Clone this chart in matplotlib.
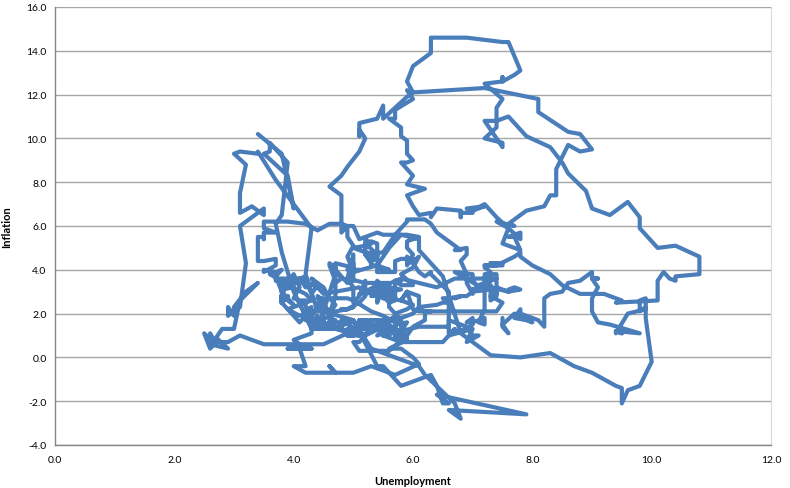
import matplotlib
matplotlib.use("Agg")
import matplotlib.pyplot as plt

# Monthly unemployment rate (%) , one row per year starting 1948
unemployment = [
    3.4,3.8,4.0,3.9,3.5,3.6,3.6,3.9,3.8,3.7,3.8,4.0,
    4.3,4.7,5.0,5.3,6.1,6.2,6.7,6.8,6.6,7.9,6.4,6.6,
    6.5,6.4,6.3,5.8,5.5,5.4,5.0,4.5,4.4,4.2,4.2,4.3,
    3.7,3.4,3.4,3.1,3.0,3.2,3.1,3.1,3.3,3.5,3.5,3.1,
    3.2,3.1,2.9,2.9,3.0,3.0,3.2,3.4,3.1,3.0,2.8,2.7,
    2.9,2.6,2.6,2.7,2.5,2.5,2.6,2.7,2.9,3.1,3.5,4.5,
    4.9,5.2,5.7,5.9,5.9,5.6,5.8,6.0,6.1,5.7,5.3,5.0,
    4.9,4.7,4.6,4.7,4.3,4.2,4.0,4.2,4.1,4.3,4.2,4.2,
    4.0,3.9,4.2,4.0,4.3,4.3,4.4,4.1,3.9,3.9,4.3,4.2,
    4.2,3.9,3.7,3.9,4.1,4.3,4.2,4.1,4.4,4.5,5.1,5.2,
    5.8,6.4,6.7,7.4,7.4,7.3,7.5,7.4,7.1,6.7,6.2,6.2,
    6.0,5.9,5.6,5.2,5.1,5.0,5.1,5.2,5.5,5.7,5.8,5.3,
    5.2,4.8,5.4,5.2,5.1,5.4,5.5,5.6,5.5,6.1,6.1,6.6,
    6.6,6.9,6.9,7.0,7.1,6.9,7.0,6.6,6.7,6.5,6.1,6.0,
    5.8,5.5,5.6,5.6,5.5,5.5,5.4,5.7,5.6,5.4,5.7,5.5,
    5.7,5.9,5.7,5.7,5.9,5.6,5.6,5.4,5.5,5.5,5.7,5.5,
    5.6,5.4,5.4,5.3,5.1,5.2,4.9,5.0,5.1,5.1,4.8,5.0,
    4.9,5.1,4.7,4.8,4.6,4.6,4.4,4.4,4.3,4.2,4.1,4.0,
    4.0,3.8,3.8,3.8,3.9,3.8,3.8,3.8,3.7,3.7,3.6,3.8,
    3.9,3.8,3.8,3.8,3.8,3.9,3.8,3.8,3.8,4.0,3.9,3.8,
    3.7,3.8,3.7,3.5,3.5,3.7,3.7,3.5,3.4,3.4,3.4,3.4,
    3.4,3.4,3.4,3.4,3.4,3.5,3.5,3.5,3.7,3.7,3.5,3.5,
    3.9,4.2,4.4,4.6,4.8,4.9,5.0,5.1,5.4,5.5,5.9,6.1,
    5.9,5.9,6.0,5.9,5.9,5.9,6.0,6.1,6.0,5.8,6.0,6.0,
    5.8,5.7,5.8,5.7,5.7,5.7,5.6,5.6,5.5,5.6,5.3,5.2,
    4.9,5.0,4.9,5.0,4.9,4.9,4.8,4.8,4.8,4.6,4.8,4.9,
    5.1,5.2,5.1,5.1,5.1,5.4,5.5,5.5,5.9,6.0,6.6,7.2,
    8.1,8.1,8.6,8.8,9.0,8.8,8.6,8.4,8.4,8.4,8.3,8.2,
    7.9,7.7,7.6,7.7,7.4,7.6,7.8,7.8,7.6,7.7,7.8,7.8,
    7.5,7.6,7.4,7.2,7.0,7.2,6.9,7.0,6.8,6.8,6.8,6.4,
    6.4,6.3,6.3,6.1,6.0,5.9,6.2,5.9,6.0,5.8,5.9,6.0,
    5.9,5.9,5.8,5.8,5.6,5.7,5.7,6.0,5.9,6.0,5.9,6.0,
    6.3,6.3,6.3,6.9,7.5,7.6,7.8,7.7,7.5,7.5,7.5,7.2,
    7.5,7.4,7.4,7.2,7.5,7.5,7.2,7.4,7.6,7.9,8.3,8.5,
    8.6,8.9,9.0,9.3,9.4,9.6,9.8,9.8,10.1,10.4,10.8,10.8,
    10.4,10.4,10.3,10.2,10.1,10.1,9.4,9.5,9.2,8.8,8.5,8.3,
    8.0,7.8,7.8,7.7,7.4,7.2,7.5,7.5,7.3,7.4,7.2,7.3,
    7.3,7.2,7.2,7.3,7.2,7.4,7.4,7.1,7.1,7.1,7.0,7.0,
    6.7,7.2,7.2,7.1,7.2,7.2,7.0,6.9,7.0,7.0,6.9,6.6,
    6.6,6.6,6.6,6.3,6.3,6.2,6.1,6.0,5.9,6.0,5.8,5.7,
    5.7,5.7,5.7,5.4,5.6,5.4,5.4,5.6,5.4,5.4,5.3,5.3,
    5.4,5.2,5.0,5.2,5.2,5.3,5.2,5.2,5.3,5.3,5.4,5.4,
    5.4,5.3,5.2,5.4,5.4,5.2,5.5,5.7,5.9,5.9,6.2,6.3,
    6.4,6.6,6.8,6.7,6.9,6.9,6.8,6.9,6.9,7.0,7.0,7.3,
    7.3,7.4,7.4,7.4,7.6,7.8,7.7,7.6,7.6,7.3,7.4,7.4,
    7.3,7.1,7.0,7.1,7.1,7.0,6.9,6.8,6.7,6.8,6.6,6.5,
    6.6,6.6,6.5,6.4,6.1,6.1,6.1,6.0,5.9,5.8,5.6,5.5,
    5.6,5.4,5.4,5.8,5.6,5.6,5.7,5.7,5.6,5.5,5.6,5.6,
    5.6,5.5,5.5,5.6,5.6,5.3,5.5,5.1,5.2,5.2,5.4,5.4,
    5.3,5.2,5.2,5.1,4.9,5.0,4.9,4.8,4.9,4.7,4.6,4.7,
    4.6,4.6,4.7,4.3,4.4,4.5,4.5,4.5,4.6,4.5,4.4,4.4,
    4.3,4.4,4.2,4.3,4.2,4.3,4.3,4.2,4.2,4.1,4.1,4.0,
    4.0,4.1,4.0,3.8,4.0,4.0,4.0,4.1,3.9,3.9,3.9,3.9,
    4.2,4.2,4.3,4.4,4.3,4.5,4.6,4.9,5.0,5.3,5.5,5.7,
    5.7,5.7,5.7,5.9,5.8,5.8,5.8,5.7,5.7,5.7,5.9,6.0,
    5.8,5.9,5.9,6.0,6.1,6.3,6.2,6.1,6.1,6.0,5.8,5.7,
    5.7,5.6,5.8,5.6,5.6,5.6,5.5,5.4,5.4,5.5,5.4,5.4,
    5.3,5.4,5.2,5.2,5.1,5.0,5.0,4.9,5.0,5.0,5.0,4.9,
    4.7,4.8,4.7,4.7,4.6,4.6,4.7,4.7,4.5,4.4,4.5,4.4,
    4.6,4.5,4.4,4.5,4.4,4.6,4.7,4.6,4.7,4.7,4.7,5.0,
    5.0,4.9,5.1,5.0,5.4,5.6,5.8,6.1,6.1,6.5,6.8,7.3,
    7.8,8.3,8.7,9.0,9.4,9.5,9.5,9.6,9.8,10.0,9.9,9.9,
    9.8,9.8,9.9,9.9,9.6,9.4,9.4,9.5,9.5,9.4,9.8,9.3,
    9.1,9.0,9.0,9.1,9.0,9.1,9.0,9.0,9.0,8.8,8.6,8.5,
    8.3,8.3,8.2,8.2,8.2,8.2,8.2,8.1,7.8,7.8,7.7,7.9,
    8.0,7.7,7.5,7.6,7.5,7.5,
]

# Monthly inflation (%) , same months
inflation = [
    10.2,9.3,6.8,8.3,9.3,9.4,9.8,8.9,6.5,6.1,4.8,3.0,
    1.3,1.3,1.7,0.4,-0.4,-0.8,-2.1,-2.8,-2.4,-2.6,-1.7,-2.1,
    -2.1,-1.3,-0.8,-1.3,-0.4,-0.4,1.7,2.1,2.1,3.8,3.8,5.9,
    8.1,9.4,9.3,9.4,9.3,8.8,7.5,6.6,6.9,6.5,6.8,6.0,
    4.3,2.3,1.9,2.3,1.9,2.3,3.0,3.4,2.6,1.3,1.3,0.9,
    0.4,0.6,1.1,0.6,1.1,1.1,0.4,0.7,0.7,1.0,0.6,0.6,
    1.1,1.5,1.1,0.8,0.8,0.4,0.4,0.0,-0.3,-0.8,-0.4,-0.7,
    -0.7,-0.7,-0.4,-0.7,-0.7,-0.7,-0.4,-0.4,0.4,0.4,0.4,0.4,
    0.4,0.4,0.4,0.8,1.1,1.9,2.2,1.9,2.2,2.2,2.6,2.9,
    2.9,3.3,3.6,3.6,3.6,3.3,3.2,3.6,3.2,2.9,3.2,2.9,
    3.6,3.2,3.6,3.6,3.2,2.8,2.5,2.1,2.1,2.1,2.1,1.7,
    1.4,1.0,0.3,0.3,0.3,0.7,0.7,1.0,1.4,1.4,1.7,1.7,
    1.0,1.7,1.4,1.7,1.7,1.7,1.4,1.4,1.0,1.4,1.4,1.4,
    1.7,1.4,1.4,1.0,1.0,0.7,1.3,1.0,1.3,0.7,0.7,0.7,
    0.7,1.0,1.0,1.3,1.3,1.3,1.0,1.3,1.3,1.3,1.3,1.3,
    1.3,1.0,1.3,0.9,0.9,1.3,1.6,1.6,1.0,1.3,1.3,1.6,
    1.6,1.6,1.3,1.3,1.3,1.3,1.3,1.0,1.3,1.0,1.3,1.0,
    1.0,1.0,1.3,1.6,1.6,1.9,1.6,1.9,1.6,1.9,1.6,1.9,
    1.9,2.5,2.5,2.8,2.8,2.5,2.8,3.5,3.5,3.8,3.8,3.5,
    3.5,2.8,2.8,2.5,2.8,2.8,2.8,2.5,2.8,2.4,2.7,3.0,
    3.7,4.0,3.9,4.0,3.9,4.2,4.5,4.4,4.4,4.7,4.7,4.7,
    4.4,4.7,5.2,5.5,5.5,5.5,5.4,5.7,5.7,5.7,5.9,6.2,
    6.2,6.1,5.8,6.1,6.1,6.0,6.0,5.4,5.7,5.6,5.6,5.5,
    5.3,5.0,4.7,4.2,4.4,4.6,4.4,4.6,4.1,3.8,3.3,3.3,
    3.3,3.5,3.5,3.5,3.2,2.7,2.9,2.9,3.2,3.4,3.4,3.4,
    3.6,3.9,4.6,5.1,5.5,6.0,5.7,7.4,7.4,7.8,8.3,8.7,
    9.4,10.0,10.4,10.1,10.7,10.9,11.5,10.9,11.9,12.1,12.2,12.3,
    11.8,11.2,10.3,10.2,9.5,9.4,9.7,8.6,7.9,7.4,7.4,6.9,
    6.7,6.3,6.1,6.0,6.2,5.9,5.4,5.7,5.5,5.5,4.9,4.9,
    5.2,5.9,6.4,7.0,6.7,6.9,6.8,6.6,6.6,6.4,6.7,6.8,
    6.8,6.4,6.6,6.5,6.9,7.4,7.7,7.9,8.3,8.9,8.9,9.0,
    9.3,9.9,10.1,10.5,10.9,10.9,11.3,11.8,12.2,12.1,12.6,13.3,
    13.9,14.2,14.6,14.6,14.4,14.4,13.1,12.9,12.6,12.8,12.6,12.5,
    11.8,11.4,10.5,10.0,9.8,9.6,10.8,10.8,11.0,10.1,9.6,8.9,
    8.4,7.6,6.8,6.5,6.7,7.1,6.4,5.9,5.0,5.1,4.6,3.8,
    3.7,3.5,3.6,3.9,3.5,2.6,2.5,2.6,2.9,2.9,3.3,3.8,
    4.2,4.6,4.8,4.6,4.2,4.2,4.2,4.3,4.3,4.3,4.1,3.9,
    3.5,3.5,3.7,3.7,3.8,3.8,3.6,3.3,3.1,3.2,3.5,3.8,
    3.9,3.1,2.2,1.6,1.5,1.8,1.6,1.6,1.8,1.5,1.3,1.1,
    1.5,2.1,3.0,3.8,3.9,3.7,3.9,4.3,4.4,4.5,4.5,4.4,
    4.0,3.9,3.9,3.9,3.9,4.0,4.1,4.0,4.2,4.2,4.2,4.4,
    4.7,4.8,5.0,5.1,5.4,5.2,5.0,4.7,4.3,4.5,4.7,4.6,
    5.2,5.3,5.2,4.7,4.4,4.7,4.8,5.6,6.2,6.3,6.3,6.1,
    5.7,5.3,4.9,4.9,5.0,4.7,4.4,3.8,3.4,2.9,3.0,3.1,
    2.6,2.8,3.2,3.2,3.0,3.1,3.2,3.1,3.0,3.2,3.0,2.9,
    3.3,3.2,3.1,3.2,3.2,3.0,2.8,2.8,2.7,2.8,2.7,2.7,
    2.5,2.5,2.5,2.4,2.3,2.5,2.8,2.9,3.0,2.6,2.7,2.7,
    2.8,2.9,2.9,3.1,3.2,3.0,2.8,2.6,2.5,2.8,2.6,2.5,
    2.7,2.7,2.8,2.9,2.9,2.8,3.0,2.9,3.0,3.0,3.3,3.3,
    3.0,3.0,2.8,2.5,2.2,2.3,2.2,2.2,2.2,2.1,1.8,1.7,
    1.6,1.4,1.4,1.4,1.7,1.7,1.7,1.6,1.5,1.5,1.5,1.6,
    1.7,1.6,1.7,2.3,2.1,2.0,2.1,2.3,2.6,2.6,2.6,2.7,
    2.7,3.2,3.8,3.1,3.2,3.7,3.7,3.4,3.5,3.4,3.4,3.4,
    3.7,3.5,2.9,3.3,3.6,3.2,2.7,2.7,2.6,2.1,1.9,1.6,
    1.1,1.1,1.5,1.6,1.2,1.1,1.5,1.8,1.5,2.0,2.2,2.4,
    2.6,3.0,3.0,2.2,2.1,2.1,2.1,2.2,2.3,2.0,1.8,1.9,
    1.9,1.7,1.7,2.3,3.1,3.3,3.0,2.7,2.5,3.2,3.5,3.3,
    3.0,3.0,3.1,3.5,2.8,2.5,3.2,3.6,4.7,4.3,3.5,3.4,
    4.0,3.6,3.4,3.5,4.2,4.3,4.1,3.8,2.1,1.3,2.0,2.5,
    2.1,2.4,2.8,2.6,2.7,2.7,2.4,2.0,2.8,3.5,4.3,4.1,
    4.3,4.0,4.0,3.9,4.2,5.0,5.6,5.4,4.9,3.7,1.1,0.1,
    0.0,0.2,-0.4,-0.7,-1.3,-1.4,-2.1,-1.5,-1.3,-0.2,1.8,2.7,
    2.6,2.1,2.3,2.2,2.0,1.1,1.2,1.1,1.1,1.2,1.1,1.5,
    1.6,2.1,2.7,3.2,3.6,3.6,3.6,3.8,3.9,3.5,3.4,3.0,
    2.9,2.9,2.7,2.3,1.7,1.7,1.4,1.7,2.0,2.2,1.8,1.7,
    1.6,2.0,1.5,1.1,1.4,1.8,
]

x_ticks = [0, 2, 4, 6, 8, 10, 12]
y_ticks = [-4, -2, 0, 2, 4, 6, 8, 10, 12, 14, 16]

plt.rcParams['font.family'] = ['Lato', 'DejaVu Sans']

fig = plt.figure(figsize=(7.9, 4.89), dpi=100)
ax = fig.add_axes([55/790, 43/489, (771-55)/790, (446-8)/489])

ax.plot(unemployment, inflation, color='#4A7EBB', linewidth=3.0,
        solid_joinstyle='round', solid_capstyle='round', zorder=3)

ax.set_xlim(0, 12)
ax.set_ylim(-4, 16)
ax.set_xticks(x_ticks)
ax.set_yticks(y_ticks)
ax.set_xticklabels([f"{v:.1f}" for v in x_ticks])
ax.set_yticklabels([f"{v:.1f}" for v in y_ticks])
ax.tick_params(axis='both', labelsize=7.5, colors='#000000', length=0, pad=6)
ax.tick_params(axis='x', pad=7)
ax.grid(axis='y', color='#A6A6A6', linewidth=1.0, zorder=0)
ax.set_axisbelow(True)
for side in ['left', 'bottom']:
    ax.spines[side].set_color('#868686')
    ax.spines[side].set_linewidth(1.0)
ax.spines['top'].set_visible(False)
ax.spines['right'].set_color('#D9D9D9')

ax.set_xlabel('Unemployment', fontsize=8, fontweight='bold', labelpad=8)
ax.set_ylabel('Inflation', fontsize=8, fontweight='bold', labelpad=10)

fig.savefig('out.png', dpi=100)
